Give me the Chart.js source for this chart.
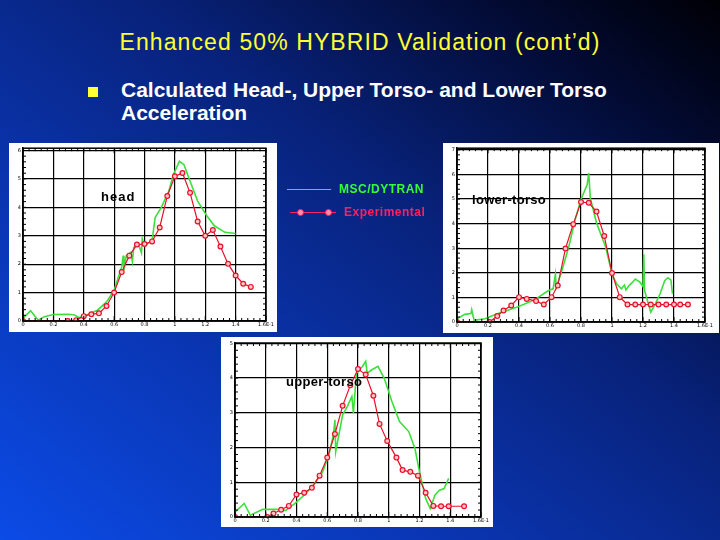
<!DOCTYPE html>
<html>
<head>
<meta charset="utf-8">
<script src="https://cdn.jsdelivr.net/npm/chart.js@4.4.1/dist/chart.umd.min.js"></script>
<style>
  html, body { margin: 0; padding: 0; }
  body {
    width: 720px; height: 540px; position: relative; overflow: hidden;
    background: linear-gradient(to top right, #0b4be6 0%, #0a36b4 30%, #08227a 60%, #020a30 85%, #000005 100%);
    font-family: 'Liberation Sans', Arial, sans-serif;
  }
  .panel { position: absolute; background: #fff; }
  .txt { position: absolute; white-space: nowrap; }
  #title { left: 0; width: 720px; top: 29px; text-align: center; color: #ffff33; font-size: 23px; letter-spacing: 1.1px; }
  #bullet { left: 88px; top: 87px; width: 10px; height: 10px; background: #ffff33; }
  #sub { left: 121px; top: 78px; color: #fff; font-size: 21px; font-weight: bold; line-height: 23px; }
  .lab { font-size: 13px; font-weight: bold; color: #000; letter-spacing: 1px; }
  .leg { font-size: 12px; font-weight: bold; letter-spacing: 0.5px; }
  .dot { position: absolute; width: 5px; height: 5px; border: 1px solid #ff2060; border-radius: 50%; background: #ff90a8; }
</style>
</head>
<body>
<div id="title" class="txt">Enhanced 50% HYBRID Validation (cont’d)</div>
<div id="bullet" class="txt"></div>
<div id="sub" class="txt">Calculated Head-, Upper Torso- and Lower Torso<br>Acceleration</div>

<canvas id="head" class="panel" width="268" height="189" style="left:9px;top:143px"></canvas>
<canvas id="lower" class="panel" width="276" height="190" style="left:443px;top:143px"></canvas>
<canvas id="upper" class="panel" width="272" height="190" style="left:221px;top:337px"></canvas>

<div class="txt lab" style="left:101px;top:189px">head</div>
<div class="txt lab" style="left:472px;top:192px;letter-spacing:0.3px">lower-torso</div>
<div class="txt lab" style="left:286px;top:374px;letter-spacing:0.3px">upper-torso</div>

<!-- legend -->
<div class="txt" style="left:287px;top:189px;width:44px;height:1px;background:#33ee33"></div>
<div class="txt leg" style="left:339px;top:182px;color:#33ff33">MSC/DYTRAN</div>
<div class="txt" style="left:290px;top:212px;width:46px;height:1px;background:#ff2060"></div>
<div class="dot" style="left:297px;top:209px"></div>
<div class="dot" style="left:325px;top:209px"></div>
<div class="txt leg" style="left:344px;top:205px;color:#ff2060">Experimental</div>

<script>
// ─── Axis ticks ──────────────────────────────────────────────────────────────
const X_TICKS  = [0, 0.2, 0.4, 0.6, 0.8, 1.0, 1.2, 1.4, 1.6];
const X_LABELS = ['0', '0.2', '0.4', '0.6', '0.8', '1', '1.2', '1.4', '1.6E-1'];

const HEAD_Y_TICKS  = [0, 1, 2, 3, 4, 5, 6];
const LOWER_Y_TICKS = [0, 1, 2, 3, 4, 5, 6, 7];
const UPPER_Y_TICKS = [0, 1, 2, 3, 4, 5];

// ─── Head ────────────────────────────────────────────────────────────────────
const headExp = [
  [0, 0], [0.295, 0], [0.35, 0.03], [0.40, 0.17], [0.45, 0.24], [0.50, 0.27],
  [0.55, 0.53], [0.60, 1.0], [0.65, 1.72], [0.70, 2.3], [0.75, 2.69], [0.80, 2.71],
  [0.85, 2.8], [0.90, 3.29], [0.95, 4.4], [1.0, 5.09], [1.05, 5.21], [1.10, 4.51],
  [1.15, 3.5], [1.20, 3.0], [1.25, 3.2], [1.30, 2.62], [1.35, 2.01], [1.40, 1.6],
  [1.45, 1.31], [1.50, 1.2],
];
const headSim = [
  [0, 0.09], [0.05, 0.36], [0.10, 0.03], [0.14, 0.15], [0.20, 0.23], [0.30, 0.24],
  [0.34, 0.21], [0.37, 0.12], [0.43, 0.24], [0.49, 0.38], [0.55, 0.67], [0.60, 1.08],
  [0.65, 1.9], [0.66, 2.3], [0.665, 1.8], [0.68, 2.3], [0.71, 2.42], [0.72, 2.1],
  [0.73, 2.6], [0.76, 2.71], [0.78, 2.4], [0.785, 2.9], [0.80, 2.65], [0.85, 2.83],
  [0.87, 3.64], [0.91, 3.99], [0.96, 4.57], [0.99, 5.15], [1.03, 5.62], [1.06, 5.5],
  [1.10, 4.92], [1.15, 4.22], [1.21, 3.7], [1.26, 3.35], [1.33, 3.12], [1.40, 3.08],
];

// ─── Lower torso ─────────────────────────────────────────────────────────────
const lowerExp = [
  [0, 0], [0.21, 0], [0.26, 0.24], [0.30, 0.47], [0.35, 0.67], [0.40, 1.01],
  [0.45, 0.94], [0.51, 0.85], [0.56, 0.71], [0.61, 1.01], [0.65, 1.48], [0.70, 2.99],
  [0.75, 3.98], [0.80, 4.88], [0.85, 4.85], [0.90, 4.49], [0.95, 3.5], [1.0, 1.99],
  [1.05, 1.01], [1.10, 0.71], [1.15, 0.71], [1.20, 0.71], [1.25, 0.71], [1.30, 0.71],
  [1.35, 0.71], [1.40, 0.71], [1.44, 0.71], [1.49, 0.71],
];
const lowerSim = [
  [0, 0.13], [0.05, 0.31], [0.09, 0.34], [0.095, 0.5], [0.11, 0.07], [0.18, 0.13],
  [0.26, 0.34], [0.39, 0.61], [0.50, 0.9], [0.59, 1.28], [0.62, 1.35], [0.635, 1.95],
  [0.64, 1.42], [0.67, 1.95], [0.72, 3.03], [0.76, 4.11], [0.80, 4.99], [0.84, 5.59],
  [0.85, 6.06], [0.86, 5.05], [0.90, 4.04], [0.96, 3.03], [1.0, 1.95], [1.03, 1.55],
  [1.06, 1.35], [1.08, 1.5], [1.09, 1.3], [1.11, 1.48], [1.13, 1.6], [1.15, 1.75],
  [1.18, 1.62], [1.20, 1.44], [1.205, 2.76], [1.21, 1.28], [1.25, 0.4], [1.28, 0.74],
  [1.31, 1.15], [1.34, 1.68], [1.36, 1.8], [1.38, 1.71], [1.39, 1.15],
];

// ─── Upper torso ─────────────────────────────────────────────────────────────
const upperExp = [
  [0, 0], [0.21, 0], [0.25, 0.10], [0.30, 0.21], [0.35, 0.32], [0.40, 0.65],
  [0.45, 0.70], [0.50, 0.84], [0.55, 1.19], [0.60, 1.71], [0.65, 2.39], [0.70, 3.2],
  [0.75, 3.79], [0.80, 4.26], [0.85, 4.1], [0.90, 3.49], [0.94, 2.68], [0.99, 2.19],
  [1.05, 1.71], [1.09, 1.35], [1.14, 1.30], [1.19, 1.19], [1.24, 0.70], [1.29, 0.32],
  [1.34, 0.31], [1.39, 0.31], [1.49, 0.31],
];
const upperSim = [
  [0, 0.14], [0.06, 0.39], [0.10, 0.05], [0.18, 0.22], [0.27, 0.22], [0.33, 0.19],
  [0.39, 0.39], [0.46, 0.67], [0.51, 0.92], [0.57, 1.30], [0.61, 1.78], [0.64, 2.36],
  [0.65, 2.8], [0.655, 1.88], [0.70, 2.94], [0.73, 3.18], [0.76, 3.47], [0.77, 2.99],
  [0.79, 4.14], [0.83, 4.34], [0.85, 4.48], [0.86, 4.14], [0.89, 4.24], [0.93, 4.34],
  [0.97, 4.0], [1.02, 3.33], [1.07, 2.75], [1.13, 2.46], [1.17, 1.98], [1.20, 1.30],
  [1.24, 0.53], [1.27, 0.24], [1.30, 0.63], [1.33, 0.77], [1.36, 0.82], [1.39, 1.11],
];

const toXY = pts => pts.map(([x, y]) => ({ x, y }));

// frame + inward minor ticks like the original plot software
const framePlugin = {
  id: 'frame',
  afterDraw(chart) {
    const { ctx, chartArea: a, scales: { x, y } } = chart;
    ctx.save();
    ctx.strokeStyle = '#000';
    ctx.lineWidth = 1;
    ctx.beginPath();
    for (let i = 0; i <= 40; i++) {
      const px = x.getPixelForValue(i * 0.04);
      const len = i % 5 === 0 ? 5 : 3;
      ctx.moveTo(px, a.bottom); ctx.lineTo(px, a.bottom - len);
      ctx.moveTo(px, a.top);    ctx.lineTo(px, a.top + len);
    }
    for (let v = 0; v <= y.max; v += 0.2) {
      const py = y.getPixelForValue(v);
      ctx.moveTo(a.left, py);  ctx.lineTo(a.left + 3, py);
      ctx.moveTo(a.right, py); ctx.lineTo(a.right - 3, py);
    }
    ctx.stroke();
    ctx.lineWidth = 1.5;
    ctx.strokeRect(a.left, a.top, a.right - a.left, a.bottom - a.top);
    ctx.restore();
  },
};

function makeChart(id, yTicks, yMax, exp, sim, area) {
  const canvas = document.getElementById(id);
  const W = canvas.width, H = canvas.height;
  return new Chart(canvas, {
    type: 'line',
    data: {
      datasets: [
        {
          label: 'Experimental',
          data: toXY(exp),
          borderColor: '#e8102a',
          borderWidth: 1.2,
          pointRadius: 2.4,
          pointBorderWidth: 1.2,
          pointBorderColor: '#e8102a',
          pointBackgroundColor: '#ffc8c8',
          tension: 0,
        },
        {
          label: 'MSC/DYTRAN',
          data: toXY(sim),
          borderColor: '#3ce03c',
          borderWidth: 1.6,
          pointRadius: 0,
          tension: 0,
        },
      ],
    },
    options: {
      responsive: false,
      animation: false,
      devicePixelRatio: 1,
      layout: { padding: { left: 0, top: area.t, right: W - area.r, bottom: 0 } },
      plugins: { legend: { display: false }, tooltip: { enabled: false } },
      scales: {
        x: {
          type: 'linear', min: 0, max: 1.6,
          afterBuildTicks: s => { s.ticks = X_TICKS.map(v => ({ value: v })); },
          afterFit: s => { s.height = H - area.b; },
          ticks: {
            font: { size: 5, family: 'DejaVu Sans' }, color: '#000', padding: 1,
            maxRotation: 0, autoSkip: false,
            callback: (v, i) => X_LABELS[i],
          },
          grid: { color: '#000', lineWidth: 1.2, drawTicks: false },
          border: { color: '#000', width: 1.5 },
        },
        y: {
          min: 0, max: yMax,
          afterBuildTicks: s => { s.ticks = yTicks.map(v => ({ value: v })); },
          afterFit: s => { s.width = area.l; },
          ticks: { font: { size: 5, family: 'DejaVu Sans' }, color: '#000', padding: 2 },
          grid: { color: '#000', lineWidth: 1.2, drawTicks: false },
          border: { color: '#000', width: 1.5 },
        },
      },
    },
    plugins: [framePlugin],
  });
}

makeChart('head',  HEAD_Y_TICKS,  6.08, headExp,  headSim,  { l: 14, t: 4, r: 257, b: 178 });
makeChart('lower', LOWER_Y_TICKS, 7.07, lowerExp, lowerSim, { l: 14, t: 4, r: 262, b: 179 });
makeChart('upper', UPPER_Y_TICKS, 5.01, upperExp, upperSim, { l: 14, t: 6, r: 260, b: 180 });
</script>
</body>
</html>
